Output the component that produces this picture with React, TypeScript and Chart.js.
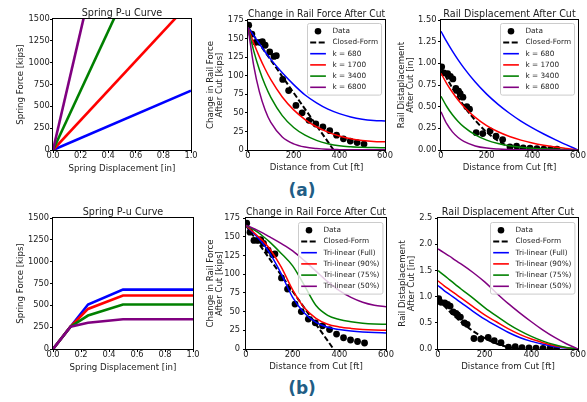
import React, { useEffect, useRef } from 'react';
import Chart from 'chart.js/auto';

const FONT = 'DejaVu Sans';
const TEXT = '#222';
const BLUE = '#0000ff';
const RED = '#ff0000';
const GREEN = '#008000';
const PURPLE = '#800080';

// ---------- tick labels ----------
const springTicksX = [0, 0.2, 0.4, 0.6, 0.8, 1.0];
const springTickLabelsX = ['0.0', '0.2', '0.4', '0.6', '0.8', '1.0'];
const springTicksY = [0, 250, 500, 750, 1000, 1250, 1500];
const springTickLabelsY = ['0', '250', '500', '750', '1000', '1250', '1500'];
const distTicks = [0, 200, 400, 600];
const distTickLabels = ['0', '200', '400', '600'];
const forceTicks = [0, 25, 50, 75, 100, 125, 150, 175];
const forceTickLabels = ['0', '25', '50', '75', '100', '125', '150', '175'];
const dispTicksTop = [0, 0.25, 0.5, 0.75, 1.0, 1.25, 1.5];
const dispTickLabelsTop = ['0.00', '0.25', '0.50', '0.75', '1.00', '1.25', '1.50'];
const dispTicksBottom = [0, 0.5, 1.0, 1.5, 2.0, 2.5];
const dispTickLabelsBottom = ['0.0', '0.5', '1.0', '1.5', '2.0', '2.5'];

// ---------- spring P-u (linear) ----------
const springDispLinear = [0, 1.0];
const springK680 = [0, 680];
const springK1700 = [0, 1700];
const springK3400 = [0, 3400];
const springK6800 = [0, 6800];

// ---------- spring P-u (tri-linear) ----------
const springDispTri = [0, 0.125, 0.25, 0.5, 1.0];
const triFull = [0, 255, 510, 680, 680];
const tri90 = [0, 255, 459, 612, 612];
const tri75 = [0, 255, 383, 510, 510];
const tri50 = [0, 255, 300, 340, 340];

// ---------- measured data ----------
const forceDataDist = [3, 17, 34, 51, 63, 75, 95, 114, 124, 152, 178, 210, 237, 267, 297, 328, 358, 388, 418, 448, 478, 508];
const forceData = [168, 156, 145, 145, 146, 141, 132, 126, 127, 95, 80, 60, 50, 40, 35, 31, 26, 20, 15, 12, 10, 8];
const dispDataDist = [3, 12, 29, 41, 52, 65, 77, 84, 96, 113, 125, 154, 183, 215, 241, 270, 302, 331, 360, 390, 420, 450, 480, 508];
const dispData = [0.96, 0.89, 0.88, 0.85, 0.82, 0.71, 0.68, 0.65, 0.61, 0.5, 0.47, 0.2, 0.19, 0.22, 0.16, 0.12, 0.035, 0.045, 0.025, 0.02, 0.015, 0.01, 0.01, 0.01];

// ---------- closed form ----------
const closedForceDist = [0, 75, 150, 225, 300, 375];
const closedForce = [165, 132, 99, 66, 33, 0];
const closedDispDist = [0, 50, 100, 150, 200, 250, 300, 350, 375];
const closedDisp = [0.95, 0.714, 0.511, 0.342, 0.207, 0.106, 0.038, 0.004, 0];

// ---------- model curves ----------
const curveDist = [0, 25, 50, 75, 100, 150, 200, 250, 300, 350, 400, 450, 500, 550, 600];
const forceK680 = [165, 154, 143, 132, 122, 104, 88, 74, 63.5, 55, 49, 44.5, 41.5, 39.8, 39];
const forceK1700 = [165, 144, 125.4, 109, 94.6, 71.4, 54, 41, 31.3, 24.1, 18.9, 15.2, 12.8, 11.4, 11];
const forceK3400 = [165, 133.5, 108, 87.4, 70.8, 46.3, 30.3, 19.9, 13, 8.5, 5.6, 4.3, 3.6, 3.2, 3.1];
const forceK6800 = [165, 113.6, 78.2, 53.9, 37.1, 17.6, 8.3, 3.9, 1.9, 0.9, 0.5, 0.3, 0.3, 0.3, 0.3];
const dispK680 = [1.37, 1.25, 1.141, 1.04, 0.948, 0.784, 0.645, 0.527, 0.424, 0.334, 0.256, 0.185, 0.12, 0.059, 0];
const dispK1700 = [0.885, 0.767, 0.666, 0.577, 0.5, 0.376, 0.281, 0.21, 0.156, 0.114, 0.082, 0.056, 0.035, 0.017, 0];
const dispK3400 = [0.62, 0.502, 0.406, 0.329, 0.266, 0.174, 0.114, 0.075, 0.049, 0.032, 0.021, 0.013, 0.008, 0.004, 0];
const dispK6800 = [0.44, 0.303, 0.209, 0.144, 0.099, 0.047, 0.022, 0.011, 0.005, 0.002, 0.001, 0, 0, 0, 0];

const forceTriFull = [165, 157, 149, 140, 129, 101, 69, 48, 35.5, 29, 26, 24, 22.7, 21.9, 21.5];
const forceTri90 = [165, 158, 151, 143.5, 134.5, 110, 79, 55, 41, 33, 29.5, 27.5, 26.2, 25.4, 25];
const forceTri75 = [165, 161, 156, 150, 143.5, 128, 111, 85, 58, 45, 39.5, 36.5, 34.5, 33.4, 33];
const forceTri50 = [165, 162, 158.5, 154.5, 150, 141, 131, 118, 104, 90, 78, 69, 62.5, 58.5, 56.5];
const dispTriFull = [1.21, 1.12, 1.04, 0.96, 0.88, 0.72, 0.57, 0.44, 0.32, 0.22, 0.145, 0.09, 0.045, 0.018, 0];
const dispTri90 = [1.3, 1.21, 1.13, 1.05, 0.97, 0.81, 0.65, 0.52, 0.39, 0.28, 0.19, 0.12, 0.06, 0.025, 0];
const dispTri75 = [1.495, 1.41, 1.32, 1.23, 1.14, 0.97, 0.79, 0.63, 0.48, 0.35, 0.24, 0.15, 0.08, 0.03, 0];
const dispTri50 = [1.91, 1.84, 1.77, 1.69, 1.62, 1.46, 1.28, 1.07, 0.87, 0.69, 0.52, 0.36, 0.22, 0.1, 0];

const pts = (xs: number[], ys: number[]) => xs.map((x, i) => ({ x, y: ys[i] }));

function lineDs(label: string, xs: number[], ys: number[], color: string, width: number, smooth: boolean, dash?: number[]) {
  return {
    label,
    data: pts(xs, ys),
    showLine: true,
    borderColor: color,
    backgroundColor: color,
    borderWidth: width,
    borderDash: dash || [],
    pointRadius: 0,
    pointHoverRadius: 0,
    fill: false,
    tension: 0,
    cubicInterpolationMode: smooth ? 'monotone' : 'default',
  };
}

function dotDs(label: string, xs: number[], ys: number[]) {
  return {
    label,
    data: pts(xs, ys),
    showLine: false,
    borderColor: '#000',
    backgroundColor: '#000',
    pointRadius: 3.4,
    pointBorderWidth: 0,
    pointHoverRadius: 0,
  };
}

const framePlugin = {
  id: 'frame',
  afterDraw(chart: any) {
    const { ctx, chartArea: a } = chart;
    ctx.save();
    ctx.strokeStyle = '#000';
    ctx.lineWidth = 1;
    ctx.strokeRect(a.left - 0.5, a.top - 0.5, a.right - a.left + 1, a.bottom - a.top + 1);
    ctx.restore();
  },
};

const boxLegend = {
  id: 'boxLegend',
  afterDraw(chart: any, _args: any, opts: any) {
    if (!opts || !opts.show) return;
    const { ctx, chartArea } = chart;
    const items = chart.data.datasets.map((ds: any) => ({
      label: ds.label,
      dot: !ds.showLine,
      color: ds.borderColor,
      dash: ds.borderDash && ds.borderDash.length ? [6, 2.5] : [],
      width: ds.borderDash && ds.borderDash.length ? 2 : 1.6,
    }));
    ctx.save();
    ctx.font = `7.3px "${FONT}"`;
    const textW = Math.max(...items.map((it: any) => ctx.measureText(it.label).width));
    const w = 25 + textW + 3.5;
    const rowH = 11.2;
    const edge = 7.8;
    const h = edge * 2 + rowH * (items.length - 1);
    const right = chartArea.right - 4;
    const top = Math.round(chartArea.top + opts.top) + 0.5;
    const left = Math.round(right - w) + 0.5;
    const r = 2;
    ctx.beginPath();
    ctx.moveTo(left + r, top);
    ctx.lineTo(left + w - r, top);
    ctx.arcTo(left + w, top, left + w, top + r, r);
    ctx.lineTo(left + w, top + h - r);
    ctx.arcTo(left + w, top + h, left + w - r, top + h, r);
    ctx.lineTo(left + r, top + h);
    ctx.arcTo(left, top + h, left, top + h - r, r);
    ctx.lineTo(left, top + r);
    ctx.arcTo(left, top, left + r, top, r);
    ctx.closePath();
    ctx.fillStyle = 'rgba(255,255,255,0.8)';
    ctx.fill();
    ctx.strokeStyle = '#cccccc';
    ctx.lineWidth = 1;
    ctx.stroke();
    items.forEach((it: any, i: number) => {
      const cy = top + edge + i * rowH;
      if (it.dot) {
        ctx.beginPath();
        ctx.fillStyle = '#000';
        ctx.arc(left + 10.5, cy, 3.3, 0, Math.PI * 2);
        ctx.fill();
      } else {
        ctx.beginPath();
        ctx.strokeStyle = it.color;
        ctx.lineWidth = it.width;
        ctx.setLineDash(it.dash);
        ctx.moveTo(left + 2.7, cy);
        ctx.lineTo(left + 18.4, cy);
        ctx.stroke();
        ctx.setLineDash([]);
      }
      ctx.fillStyle = TEXT;
      ctx.textBaseline = 'middle';
      ctx.textAlign = 'left';
      ctx.fillText(it.label, left + 25, cy);
    });
    ctx.restore();
  },
};

interface Panel {
  left: number;
  top: number;
  yW: number;
  xH: number;
  plotW: number;
  plotH: number;
  padR: number;
  title: string;
  xTitle: string;
  yTitle: string | string[];
  xMin: number;
  xMax: number;
  xTicks: number[];
  xLabels: string[];
  yMin: number;
  yMax: number;
  yTicks: number[];
  yLabels: string[];
  yTickPad: number;
  legend: boolean;
  legendTop: number;
  datasets: any[];
}

const TITLE_H = 12;

function withOrder(ds: any[]) {
  return ds.map((d, i) => ({ ...d, order: ds.length - i }));
}

const panels: Panel[] = [
  {
    left: 16, top: 7, yW: 37, xH: 23, plotW: 138, plotH: 131, padR: 12,
    title: 'Spring P-u Curve', xTitle: 'Spring Displacement [in]', yTitle: 'Spring Force [kips]',
    xMin: 0, xMax: 1, xTicks: springTicksX, xLabels: springTickLabelsX,
    yMin: 0, yMax: 1500, yTicks: springTicksY, yLabels: springTickLabelsY, yTickPad: 0.3,
    legend: false, legendTop: 0,
    datasets: withOrder([
      lineDs('k = 680', springDispLinear, springK680, BLUE, 2.6, false),
      lineDs('k = 1700', springDispLinear, springK1700, RED, 2.6, false),
      lineDs('k = 3400', springDispLinear, springK3400, GREEN, 2.6, false),
      lineDs('k = 6800', springDispLinear, springK6800, PURPLE, 2.6, false),
    ]),
  },
  {
    left: 206, top: 8, yW: 42, xH: 22, plotW: 137, plotH: 130, padR: 12,
    title: 'Change in Rail Force After Cut', xTitle: 'Distance from Cut [ft]', yTitle: ['Change in Rail Force', 'After Cut [kips]'],
    xMin: 0, xMax: 600, xTicks: distTicks, xLabels: distTickLabels,
    yMin: 0, yMax: 175, yTicks: forceTicks, yLabels: forceTickLabels, yTickPad: 1.3,
    legend: true, legendTop: 2.5,
    datasets: withOrder([
      dotDs('Data', forceDataDist, forceData),
      lineDs('Closed-Form', closedForceDist, closedForce, '#000', 2, false, [5.5, 2.5]),
      lineDs('k = 680', curveDist, forceK680, BLUE, 1.5, true),
      lineDs('k = 1700', curveDist, forceK1700, RED, 1.5, true),
      lineDs('k = 3400', curveDist, forceK3400, GREEN, 1.5, true),
      lineDs('k = 6800', curveDist, forceK6800, PURPLE, 1.5, true),
    ]),
  },
  {
    left: 397, top: 8, yW: 44, xH: 22, plotW: 137, plotH: 130, padR: 12,
    title: 'Rail Displacement After Cut', xTitle: 'Distance from Cut [ft]', yTitle: ['Rail Distaplacement', 'After Cut [in]'],
    xMin: 0, xMax: 600, xTicks: distTicks, xLabels: distTickLabels,
    yMin: 0, yMax: 1.5, yTicks: dispTicksTop, yLabels: dispTickLabelsTop, yTickPad: 1.5,
    legend: true, legendTop: 2.5,
    datasets: withOrder([
      dotDs('Data', dispDataDist, dispData),
      lineDs('Closed-Form', closedDispDist, closedDisp, '#000', 2, true, [5.5, 2.5]),
      lineDs('k = 680', curveDist, dispK680, BLUE, 1.5, true),
      lineDs('k = 1700', curveDist, dispK1700, RED, 1.5, true),
      lineDs('k = 3400', curveDist, dispK3400, GREEN, 1.5, true),
      lineDs('k = 6800', curveDist, dispK6800, PURPLE, 1.5, true),
    ]),
  },
  {
    left: 16, top: 206, yW: 37, xH: 23, plotW: 140, plotH: 131, padR: 12,
    title: 'Spring P-u Curve', xTitle: 'Spring Displacement [in]', yTitle: 'Spring Force [kips]',
    xMin: 0, xMax: 1, xTicks: springTicksX, xLabels: springTickLabelsX,
    yMin: 0, yMax: 1500, yTicks: springTicksY, yLabels: springTickLabelsY, yTickPad: 1,
    legend: false, legendTop: 0,
    datasets: withOrder([
      lineDs('Tri-linear (Full)', springDispTri, triFull, BLUE, 2.6, false),
      lineDs('Tri-linear (90%)', springDispTri, tri90, RED, 2.6, false),
      lineDs('Tri-linear (75%)', springDispTri, tri75, GREEN, 2.6, false),
      lineDs('Tri-linear (50%)', springDispTri, tri50, PURPLE, 2.6, false),
    ]),
  },
  {
    left: 206, top: 206, yW: 40, xH: 22, plotW: 140, plotH: 131, padR: 12,
    title: 'Change in Rail Force After Cut', xTitle: 'Distance from Cut [ft]', yTitle: ['Change in Rail Force', 'After Cut [kips]'],
    xMin: 0, xMax: 600, xTicks: distTicks, xLabels: distTickLabels,
    yMin: 0, yMax: 175, yTicks: forceTicks, yLabels: forceTickLabels, yTickPad: 3,
    legend: true, legendTop: 4,
    datasets: withOrder([
      dotDs('Data', forceDataDist, forceData),
      lineDs('Closed-Form', closedForceDist, closedForce, '#000', 2, false, [5.5, 2.5]),
      lineDs('Tri-linear (Full)', curveDist, forceTriFull, BLUE, 1.5, true),
      lineDs('Tri-linear (90%)', curveDist, forceTri90, RED, 1.5, true),
      lineDs('Tri-linear (75%)', curveDist, forceTri75, GREEN, 1.5, true),
      lineDs('Tri-linear (50%)', curveDist, forceTri50, PURPLE, 1.5, true),
    ]),
  },
  {
    left: 398, top: 206, yW: 40, xH: 22, plotW: 140, plotH: 131, padR: 12,
    title: 'Rail Displacement After Cut', xTitle: 'Distance from Cut [ft]', yTitle: ['Rail Distaplacement', 'After Cut [in]'],
    xMin: 0, xMax: 600, xTicks: distTicks, xLabels: distTickLabels,
    yMin: 0, yMax: 2.5, yTicks: dispTicksBottom, yLabels: dispTickLabelsBottom, yTickPad: 2.6,
    legend: true, legendTop: 4,
    datasets: withOrder([
      dotDs('Data', dispDataDist, dispData),
      lineDs('Closed-Form', closedDispDist, closedDisp, '#000', 2, true, [5.5, 2.5]),
      lineDs('Tri-linear (Full)', curveDist, dispTriFull, BLUE, 1.5, true),
      lineDs('Tri-linear (90%)', curveDist, dispTri90, RED, 1.5, true),
      lineDs('Tri-linear (75%)', curveDist, dispTri75, GREEN, 1.5, true),
      lineDs('Tri-linear (50%)', curveDist, dispTri50, PURPLE, 1.5, true),
    ]),
  },
];

const canvasW = (p: Panel) => p.yW + p.plotW + p.padR;
const canvasH = (p: Panel) => TITLE_H + p.plotH + p.xH;

function makeConfig(p: Panel): any {
  const tickFont = { family: FONT, size: 8.3 };
  const axTitleFont = { family: FONT, size: 8.6, lineHeight: 1.1 };
  const grid = { drawOnChartArea: false, drawTicks: true, tickLength: 3, color: '#000', lineWidth: 1 };
  return {
    type: 'line',
    data: { datasets: p.datasets },
    plugins: [framePlugin, boxLegend],
    options: {
      responsive: false,
      maintainAspectRatio: false,
      animation: false,
      devicePixelRatio: 1,
      events: [],
      layout: { padding: { left: 0, top: 0, bottom: 0, right: p.padR } },
      plugins: {
        legend: { display: false },
        tooltip: { enabled: false },
        title: {
          display: true,
          text: p.title,
          fullSize: false,
          color: TEXT,
          font: { family: FONT, size: 9.6, weight: 'normal', lineHeight: 1.25 },
          padding: { top: 0, bottom: 0 },
        },
        boxLegend: { show: p.legend, top: p.legendTop },
      },
      scales: {
        x: {
          type: 'linear',
          min: p.xMin,
          max: p.xMax,
          afterBuildTicks: (ax: any) => { ax.ticks = p.xTicks.map((v) => ({ value: v })); },
          afterFit: (ax: any) => { ax.height = p.xH; },
          ticks: { callback: (_v: any, i: number) => p.xLabels[i], color: TEXT, font: tickFont, padding: -2.2, maxRotation: 0, minRotation: 0, autoSkip: false },
          grid,
          border: { display: false },
          title: { display: true, text: p.xTitle, color: TEXT, font: axTitleFont, padding: { top: 0, bottom: 0 } },
        },
        y: {
          type: 'linear',
          min: p.yMin,
          max: p.yMax,
          afterBuildTicks: (ax: any) => { ax.ticks = p.yTicks.map((v) => ({ value: v })); },
          afterFit: (ax: any) => { ax.width = p.yW; },
          ticks: { callback: (_v: any, i: number) => p.yLabels[i], color: TEXT, font: tickFont, padding: p.yTickPad, autoSkip: false },
          grid,
          border: { display: false },
          title: { display: true, text: p.yTitle, color: TEXT, font: axTitleFont, padding: { top: 0, bottom: 0 } },
        },
      },
    },
  };
}

function PanelChart({ p }: { p: Panel }) {
  const ref = useRef<HTMLCanvasElement | null>(null);
  useEffect(() => {
    if (!ref.current) return;
    const chart = new Chart(ref.current, makeConfig(p));
    return () => chart.destroy();
  }, [p]);
  const w = canvasW(p);
  const h = canvasH(p);
  return (
    <canvas
      ref={ref}
      width={w}
      height={h}
      style={{ position: 'absolute', left: p.left, top: p.top, width: w, height: h }}
    />
  );
}

const panelLabelStyle: React.CSSProperties = {
  position: 'absolute',
  left: 252,
  width: 100,
  textAlign: 'center',
  fontFamily: '"DejaVu Sans", sans-serif',
  fontWeight: 'bold',
  fontSize: 17,
  lineHeight: '20px',
  color: '#215d85',
};

export default function App() {
  return (
    <div style={{ position: 'absolute', left: 0, top: 0, width: 587, height: 402, overflow: 'hidden', background: '#fff' }}>
      {panels.map((p, i) => (
        <PanelChart key={i} p={p} />
      ))}
      <div style={{ ...panelLabelStyle, top: 180 }}>(a)</div>
      <div style={{ ...panelLabelStyle, top: 378 }}>(b)</div>
    </div>
  );
}
